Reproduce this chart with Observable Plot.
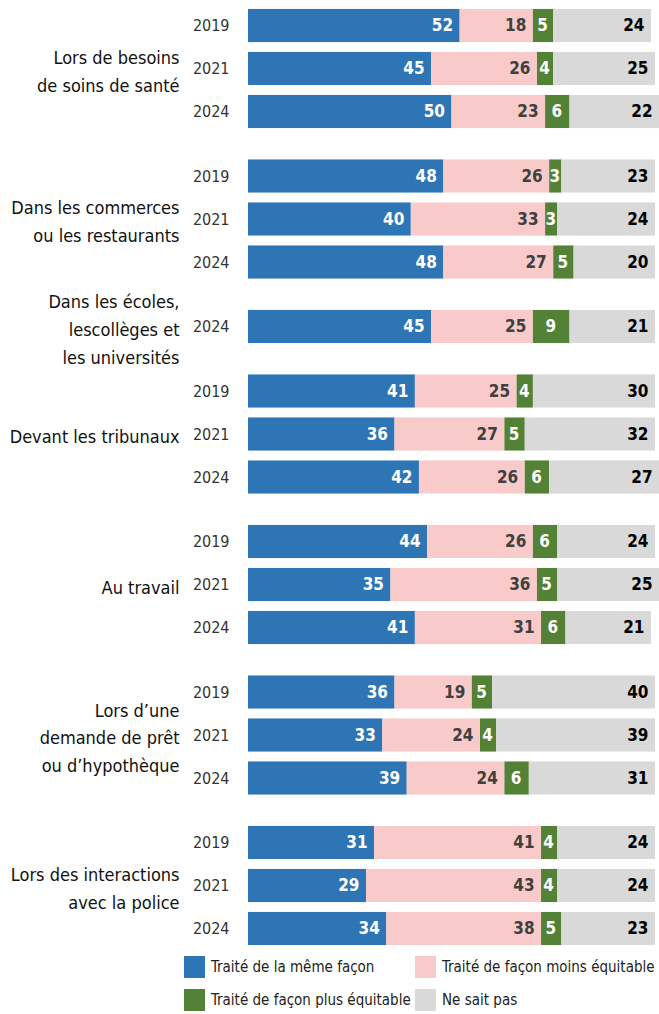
<!DOCTYPE html>
<html><head><meta charset="utf-8">
<script src="https://cdn.jsdelivr.net/npm/d3@7"></script>
<script src="https://cdn.jsdelivr.net/npm/@observablehq/plot@0.6"></script>
<style>
body{margin:0;background:#fff;font-family:"DejaVu Sans",sans-serif;font-stretch:condensed;}
svg text{font-stretch:condensed;}
#legend{position:relative;height:62px;width:659px;}
.item{position:absolute;display:flex;align-items:center;font-size:15px;color:#222;white-space:nowrap;font-stretch:condensed;}
.sw{width:21px;height:22px;margin-right:6px;flex:none;}
</style></head>
<body><div id="chart"></div><div id="legend"></div>
<script>
const groups = [
  "Lors de besoins\nde soins de santé",
  "Dans les commerces\nou les restaurants",
  "Dans les écoles,\nlescollèges et\nles universités",
  "Devant les tribunaux",
  "Au travail",
  "Lors d’une\ndemande de prêt\nou d’hypothèque",
  "Lors des interactions\navec la police"
];
const groupYears = [
  ["2019","2021","2024"],
  ["2019","2021","2024"],
  ["2024"],
  ["2019","2021","2024"],
  ["2019","2021","2024"],
  ["2019","2021","2024"],
  ["2019","2021","2024"]
];
const series = ["Traité de la même façon","Traité de façon moins équitable","Traité de façon plus équitable","Ne sait pas"];
const same = [52,45,50, 48,40,48, 45, 41,36,42, 44,35,41, 36,33,39, 31,29,34];
const less = [18,26,23, 26,33,27, 25, 25,27,26, 26,36,31, 19,24,24, 41,43,38];
const more = [5,4,6, 3,3,5, 9, 4,5,6, 6,5,6, 5,4,6, 4,4,5];
const dontKnow = [24,25,22, 23,24,20, 21, 30,32,27, 24,25,21, 40,39,31, 24,24,23];

const colors = ["#2e75b6","#f9caca","#538135","#d9d9d9"];
const textColors = ["#ffffff","#404040","#ffffff","#000000"];
const values = [same, less, more, dontKnow];

// row positions derived from structure: one unit per row, half a unit between groups
const rows = [];
const groupRows = [];
let idx = 0;
groups.forEach((g, gi) => {
  const ps = [];
  groupYears[gi].forEach(y => {
    const pos = idx + 0.5 * gi;
    rows.push({group: gi, year: y, i: idx, pos});
    ps.push(pos);
    idx++;
  });
  groupRows.push({label: g, pos: d3.mean(ps)});
});
const segs = [];
rows.forEach(r => {
  let cum = 0;
  values.forEach((arr, s) => {
    const v = arr[r.i];
    segs.push({s, series: series[s], v, x1: cum, x2: cum + v, xm: cum + v / 2, pos: r.pos});
    cum += v;
  });
});
const half = 0.385;
const chart = Plot.plot({
  width: 659, height: 952,
  marginLeft: 248, marginRight: 4, marginTop: 4, marginBottom: 2,
  style: {fontFamily: '"DejaVu Sans",sans-serif', background: "#fff"},
  x: {domain: [0, 100], axis: null},
  y: {domain: [-0.5, 21.5], reverse: true, axis: null},
  color: {domain: series, range: colors},
  marks: [
    Plot.rect(segs, {x1: "x1", x2: "x2", y1: d => d.pos - half, y2: d => d.pos + half, fill: "series"}),
    ...series.map((sname, s) => Plot.text(segs.filter(d => d.s === s), s === 2 ? {
      x: "xm", y: "pos", text: d => String(d.v), textAnchor: "middle", dx: -1,
      fill: textColors[s], fontWeight: "bold", fontSize: 17
    } : {
      x: "x2", y: "pos", text: d => String(d.v), textAnchor: "end", dx: -7,
      fill: textColors[s], fontWeight: "bold", fontSize: 17
    })),
    Plot.text(rows, {frameAnchor: "left", y: "pos", text: "year", textAnchor: "end", dx: -19, fontSize: 16, fill: "#333"}),
    Plot.text(groupRows, {frameAnchor: "left", y: "pos", text: "label", textAnchor: "end", dx: -69, fontSize: 18, lineHeight: 1.55, fill: "#111"})
  ]
});
document.getElementById("chart").appendChild(chart);

const legendPos = [[184, 4], [415, 4], [184, 37], [415, 37]];
const legend = document.getElementById("legend");
series.forEach((s, i) => {
  const it = document.createElement("div");
  it.className = "item";
  it.style.left = legendPos[i][0] + "px";
  it.style.top = legendPos[i][1] + "px";
  const sw = document.createElement("div");
  sw.className = "sw";
  sw.style.background = colors[i];
  const t = document.createElement("span");
  t.textContent = s;
  it.appendChild(sw); it.appendChild(t);
  legend.appendChild(it);
});
</script>
</body></html>
